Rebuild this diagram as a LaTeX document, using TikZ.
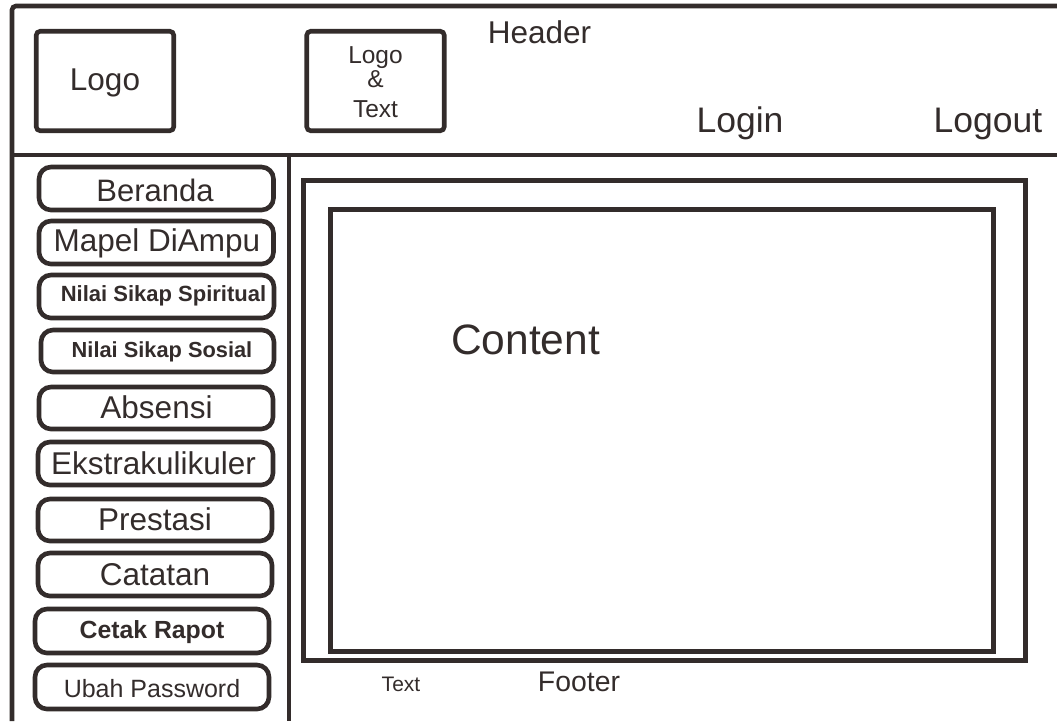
\documentclass[tikz,border=0pt]{standalone}
\usepackage{fontspec}
\setmainfont{Liberation Sans}
\definecolor{ink}{HTML}{332C2B}
\tikzset{
  line/.style={draw=ink,line width=4.6pt},
  corner/.style={line,rounded corners=4pt},
  menubtn/.style={line,rounded corners=12pt},
  sq/.style={line,line cap=rect},
  lbl/.style={text=ink,inner sep=0pt,anchor=base,align=center},
}
\newcommand{\btn}[5]{% name, x1, y1, x2, y2
  \path[menubtn] (#2,#3) rectangle (#4,#5);
  \coordinate (#1) at ({(#2+#4)/2},{(#3+#5)/2});
}
\begin{document}
\begin{tikzpicture}[x=1pt,y=-1pt]
\useasboundingbox (0,0) rectangle (1057,721);
% frame
\coordinate (ftl) at (12,6);
\coordinate (ftr) at (1057,6);
\coordinate (fbl) at (12,721);
\coordinate (hl) at (12,155);
\coordinate (hr) at (1057,155);
\coordinate (st) at (289,155);
\coordinate (sb) at (289,721);
\draw[corner] (fbl) -- (ftl) -- (ftr);
\draw[line] (hl) -- (hr);
\draw[line] (st) -- (sb);
% header boxes
\node[corner,minimum width=137.5pt,minimum height=99.5pt,inner sep=0pt] (logo) at (105,81) {};
\node[lbl,font=\fontsize{31.5}{34}\selectfont] (logolbl) at (105,90) {Logo};
\node[corner,minimum width=137.5pt,minimum height=99.5pt,inner sep=0pt] (logotext) at (375.5,81) {};
\node[lbl,font=\fontsize{24.5}{26}\selectfont] (lt1) at (375.5,63) {Logo};
\node[lbl,font=\fontsize{24.5}{26}\selectfont] (lt2) at (375.5,87) {\&};
\node[lbl,font=\fontsize{24.5}{26}\selectfont] (lt3) at (375.5,117) {Text};
\node[lbl,font=\fontsize{31.5}{34}\selectfont] (header) at (539.5,43.5) {Header};
\node[lbl,font=\fontsize{35.5}{38}\selectfont] (login) at (740,132) {Login};
\node[lbl,font=\fontsize{35.5}{38}\selectfont] (logout) at (988,132) {Logout};
% menu
\btn{b1}{39}{167}{273.5}{210}
\btn{b2}{39}{221}{273.5}{264}
\btn{b3}{39}{275}{274}{318}
\btn{b4}{41}{330}{274}{372}
\btn{b5}{39}{387}{273}{429}
\btn{b6}{38}{442}{273}{485}
\btn{b7}{38}{499}{272}{541}
\btn{b8}{38}{553}{272}{596}
\btn{b9}{35}{609}{269}{653}
\btn{b10}{35}{665}{269}{709}
\node[lbl,font=\fontsize{31}{33}\selectfont] (t1) at (155,201) {Beranda};
\node[lbl,font=\fontsize{31.5}{34}\selectfont] (t2) at (157,251) {Mapel DiAmpu};
\node[lbl,font=\fontsize{22}{24}\selectfont\bfseries] (t3) at (163.5,301.5) {Nilai Sikap Spiritual};
\node[lbl,font=\fontsize{21.8}{24}\selectfont\bfseries] (t4) at (162,357.5) {Nilai Sikap Sosial};
\node[lbl,font=\fontsize{31.5}{34}\selectfont] (t5) at (156.5,418.5) {Absensi};
\node[lbl,font=\fontsize{31.5}{34}\selectfont] (t6) at (153.5,474) {Ekstrakulikuler};
\node[lbl,font=\fontsize{31.5}{34}\selectfont] (t7) at (155,530) {Prestasi};
\node[lbl,font=\fontsize{31.5}{34}\selectfont] (t8) at (155,585) {Catatan};
\node[lbl,font=\fontsize{24.8}{27}\selectfont\bfseries] (t9) at (152,638.5) {Cetak Rapot};
\node[lbl,font=\fontsize{25}{27}\selectfont] (t10) at (152,697) {Ubah Password};
% content
\node[sq,minimum width=722.5pt,minimum height=480.5pt,inner sep=0pt] (outer) at (664.5,420.5) {};
\node[sq,minimum width=663.5pt,minimum height=442.5pt,inner sep=0pt] (inner) at (662,430.5) {};
\node[lbl,font=\fontsize{42.5}{46}\selectfont] (content) at (525.5,354) {Content};
\node[lbl,font=\fontsize{21}{23}\selectfont] (text) at (401,691) {Text};
\node[lbl,font=\fontsize{28.4}{30}\selectfont] (footer) at (579,691) {Footer};
\end{tikzpicture}
\end{document}
